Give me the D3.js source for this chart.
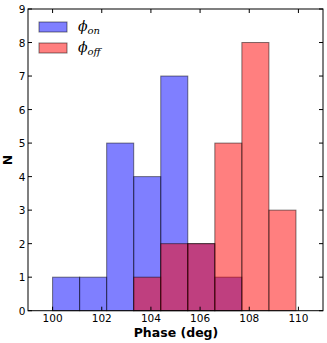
<!DOCTYPE html>
<html><head><meta charset="utf-8">
<script src="https://cdn.jsdelivr.net/npm/d3@7"></script>
<style>body{margin:0;background:#fff}svg{display:block}</style>
</head><body>
<script>
const binEdges = [100, 101.1, 102.2, 103.3, 104.4, 105.5, 106.6, 107.7, 108.8, 109.9];
const onCounts = [1, 1, 5, 4, 7, 2, 1, 0, 0];
const offCounts = [0, 0, 0, 1, 2, 2, 5, 8, 3];
const xTicks = [100, 102, 104, 106, 108, 110];
const yTicks = [0, 1, 2, 3, 4, 5, 6, 7, 8, 9];

const W = 327, H = 343;
const L = 28, R = 323, T = 9, B = 310.7;
const svg = d3.select("body").append("svg").attr("width", W).attr("height", H);
const x = d3.scaleLinear().domain([99, 111]).range([L, R]);
const y = d3.scaleLinear().domain([0, 9]).range([B, T]);

function drawHist(counts, color) {
  const data = counts.map((c, i) => ({c, x0: binEdges[i], x1: binEdges[i + 1]})).filter(d => d.c > 0);
  svg.append("g").selectAll("rect").data(data).join("rect")
    .attr("x", d => x(d.x0)).attr("width", d => x(d.x1) - x(d.x0))
    .attr("y", d => y(d.c)).attr("height", d => y(0) - y(d.c))
    .attr("fill", color).attr("fill-opacity", 0.5)
    .attr("stroke", "#000").attr("stroke-opacity", 0.5).attr("stroke-width", 1);
}
drawHist(onCounts, "#0000ff");
drawHist(offCounts, "#ff0000");

// frame
svg.append("rect").attr("x", L).attr("y", T).attr("width", R - L).attr("height", B - T)
  .attr("fill", "none").attr("stroke", "#000").attr("stroke-width", 1);

const font = "'DejaVu Sans', sans-serif";
const tl = 4;
const gx = svg.append("g");
xTicks.forEach(t => {
  gx.append("line").attr("x1", x(t)).attr("x2", x(t)).attr("y1", B).attr("y2", B - tl).attr("stroke", "#000");
  gx.append("line").attr("x1", x(t)).attr("x2", x(t)).attr("y1", T).attr("y2", T + tl).attr("stroke", "#000");
  gx.append("text").attr("x", x(t)).attr("y", 322).attr("text-anchor", "middle")
    .attr("font-family", font).attr("font-size", 10.5).text(t);
});
const gy = svg.append("g");
yTicks.forEach(t => {
  gy.append("line").attr("x1", L).attr("x2", L + tl).attr("y1", y(t)).attr("y2", y(t)).attr("stroke", "#000");
  gy.append("line").attr("x1", R).attr("x2", R - tl).attr("y1", y(t)).attr("y2", y(t)).attr("stroke", "#000");
  gy.append("text").attr("x", L - 2.5).attr("y", y(t) + 4).attr("text-anchor", "end")
    .attr("font-family", font).attr("font-size", 10.5).text(t);
});

svg.append("text").attr("x", (L + R) / 2 + 0.5).attr("y", 337).attr("text-anchor", "middle")
  .attr("font-family", font).attr("font-weight", "bold").attr("font-size", 12.5).text("Phase (deg)");
svg.append("text").attr("transform", "translate(12.3,160) rotate(-90)").attr("text-anchor", "middle")
  .attr("font-family", font).attr("font-weight", "bold").attr("font-size", 12.5).text("N");

// legend
const leg = [{label: "on", color: "#0000ff", y: 22}, {label: "off", color: "#ff0000", y: 43}];
leg.forEach(d => {
  svg.append("rect").attr("x", 39).attr("y", d.y).attr("width", 28).attr("height", 10)
    .attr("fill", d.color).attr("fill-opacity", 0.5).attr("stroke", "#000").attr("stroke-opacity", 0.5);
  const t = svg.append("text").attr("x", 78).attr("y", d.y + 9)
    .attr("font-family", "'DejaVu Serif', serif").attr("font-style", "italic").attr("font-size", 14);
  t.append("tspan").text("ϕ");
  t.append("tspan").attr("dy", 3).attr("font-size", 10).text(d.label);
});
</script>
</body></html>
